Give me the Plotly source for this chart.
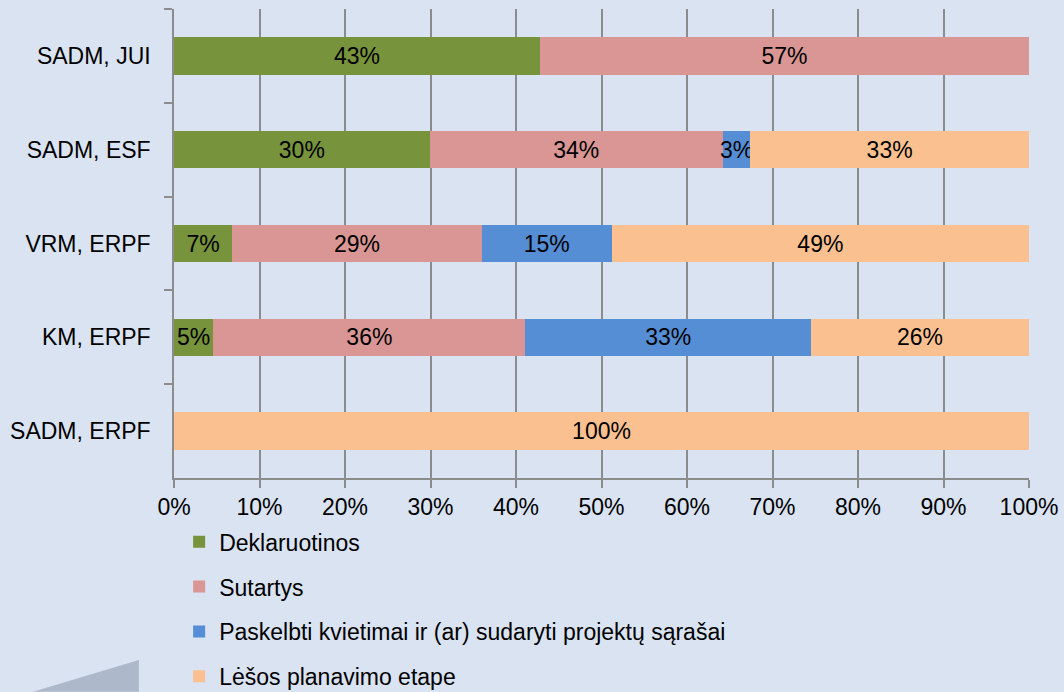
import plotly.graph_objects as go

# Categories (top to bottom) and shares in percent
categories = ["SADM, JUI", "SADM, ESF", "VRM, ERPF", "KM, ERPF", "SADM, ERPF"]
deklaruotinos = [42.8, 29.9, 6.8, 4.6, 0]
sutartys = [57.2, 34.3, 29.2, 36.5, 0]
kvietimai = [0, 3.2, 15.2, 33.4, 0]
planavimas = [0, 32.6, 48.8, 25.5, 100]

series_names = [
    "Deklaruotinos",
    "Sutartys",
    "Paskelbti kvietimai ir (ar) sudaryti projektų sąrašai",
    "Lėšos planavimo etape",
]
colors = ["#77933C", "#D99694", "#558ED5", "#FAC090"]
bg = "#D9E3F2"

fig = go.Figure()
for name, vals, col in zip(series_names, [deklaruotinos, sutartys, kvietimai, planavimas], colors):
    fig.add_trace(go.Bar(
        y=categories,
        x=vals,
        orientation="h",
        name=name,
        legendgroup=name,
        marker=dict(color=col, line=dict(width=0)),
        text=[f"{round(v)}%" if v > 0 else "" for v in vals],
        textposition="inside",
        insidetextanchor="middle",
        textangle=0,
        textfont=dict(color="black", size=23),
        hoverinfo="x+name",
    ))

# grey wedge in the lower left corner
fig.add_shape(
    type="path",
    xref="paper", yref="paper",
    path="M -0.165,-0.456 L -0.041,-0.388 L -0.041,-0.456 Z",
    fillcolor="#ADB9CA", line=dict(width=0), layer="below",
)

fig.update_layout(
    barmode="stack",
    bargap=0.6,
    width=1064, height=692,
    margin=dict(l=174, r=35, t=9, b=214, autoexpand=False),
    paper_bgcolor=bg,
    plot_bgcolor=bg,
    font=dict(family="Liberation Sans, Arial", size=23, color="black"),
    uniformtext=dict(minsize=23, mode="show"),
    showlegend=True,
    legend=dict(
        x=0.006, xanchor="left",
        y=-0.09, yanchor="top",
        orientation="v",
        traceorder="grouped",
        tracegroupgap=12,
        bgcolor="rgba(0,0,0,0)",
        font=dict(size=23),
        itemwidth=30,
    ),
    xaxis=dict(
        range=[0, 100],
        tickvals=[0, 10, 20, 30, 40, 50, 60, 70, 80, 90, 100],
        ticktext=[f"{v}%" for v in range(0, 101, 10)],
        showgrid=True, gridcolor="#8C8C8C", gridwidth=1.5,
        showline=True, linecolor="#8C8C8C", linewidth=1.5,
        ticks="outside", ticklen=8, tickcolor="#8C8C8C", tickwidth=1.5,
        zeroline=False,
        automargin=False,
        fixedrange=True,
    ),
    yaxis=dict(
        autorange="reversed",
        showgrid=False,
        showline=True, linecolor="#8C8C8C", linewidth=1.5,
        ticks="outside", ticklen=8, tickcolor="#8C8C8C", tickwidth=1.5,
        tickson="boundaries",
        ticklabelstandoff=17,
        automargin=False,
        fixedrange=True,
    ),
)

# drop the default page margin so the figure sits at the window's corner
fig.write_html(
    "out.html",
    config={"displayModeBar": False},
    post_script="document.body.style.margin='0';",
)
